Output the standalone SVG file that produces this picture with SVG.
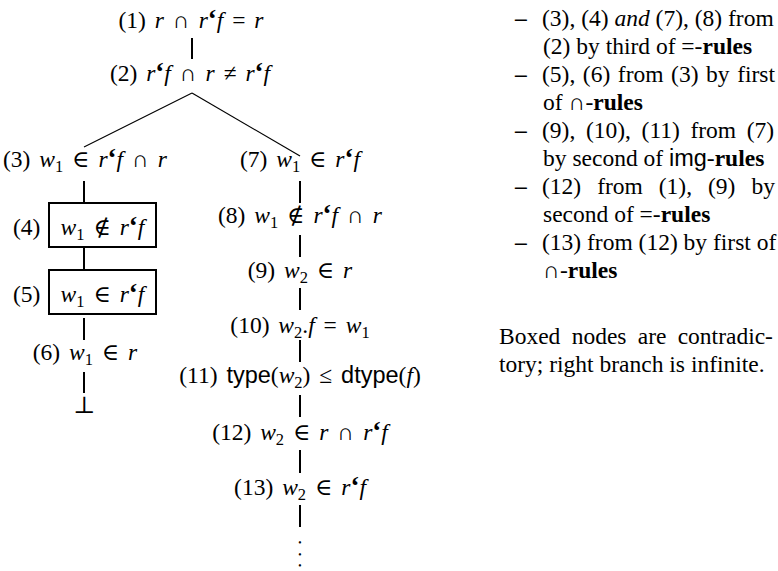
<svg xmlns="http://www.w3.org/2000/svg" width="778" height="571" viewBox="0 0 778 571">
<style>
.t{font-family:"Liberation Serif","DejaVu Serif",serif;font-size:23.5px;fill:#000}
.m{text-anchor:middle;word-spacing:3px}
.i{font-style:italic}
.q{font-weight:bold;font-size:27px}
.s{font-family:"Liberation Sans","DejaVu Sans",sans-serif}
.b{font-weight:bold}
.sub{font-size:16.5px}
.dot{font-family:"Liberation Serif","DejaVu Serif",serif;font-size:9.5px;text-anchor:middle;fill:#000}
.c{stroke:#000;stroke-width:2;fill:none}
.d{stroke:#000;stroke-width:1.2;fill:none}
.box{stroke:#000;stroke-width:2;fill:#fff}
</style>
<rect width="778" height="571" fill="#fff"/>
<g id="connectors">
<line class="c" x1="192" y1="38" x2="192" y2="59"/>
<line class="d" x1="192" y1="93" x2="84" y2="147"/>
<line class="d" x1="192" y1="93" x2="300" y2="156"/>
<line class="c" x1="84" y1="181" x2="84" y2="203"/>
<line class="c" x1="84" y1="248" x2="84" y2="270"/>
<line class="c" x1="84" y1="318" x2="84" y2="340"/>
<line class="c" x1="84" y1="372" x2="84" y2="393"/>
<line class="c" x1="300" y1="181" x2="300" y2="203"/>
<line class="c" x1="300" y1="235" x2="300" y2="257"/>
<line class="c" x1="300" y1="288" x2="300" y2="310"/>
<line class="c" x1="300" y1="340" x2="300" y2="362"/>
<line class="c" x1="300" y1="395" x2="300" y2="417"/>
<line class="c" x1="300" y1="450" x2="300" y2="473"/>
<line class="c" x1="300" y1="505" x2="300" y2="527"/>
</g>
<g id="n1"><text class="t m" x="191" y="28">(1) <tspan class="i">r</tspan> ∩ <tspan class="i">r</tspan><tspan class="q">‘</tspan><tspan class="i">f</tspan> = <tspan class="i">r</tspan></text></g>
<g id="n2"><text class="t m" x="190" y="81">(2) <tspan class="i">r</tspan><tspan class="q">‘</tspan><tspan class="i">f</tspan> ∩ <tspan class="i">r</tspan> ≠ <tspan class="i">r</tspan><tspan class="q">‘</tspan><tspan class="i">f</tspan></text></g>
<g id="n3"><text class="t m" x="85" y="167">(3) <tspan class="i">w</tspan><tspan class="sub" dy="5">1</tspan><tspan dy="-5"> ∈ </tspan><tspan class="i">r</tspan><tspan class="q">‘</tspan><tspan class="i">f</tspan> ∩ <tspan class="i">r</tspan></text></g>
<g id="n4"><rect class="box" x="49" y="203" width="107" height="44"/><text class="t" x="13" y="235">(4)</text><text class="t m" x="102.5" y="235"><tspan class="i">w</tspan><tspan class="sub" dy="5">1</tspan><tspan dy="-5"> ∉ </tspan><tspan class="i">r</tspan><tspan class="q">‘</tspan><tspan class="i">f</tspan></text></g>
<g id="n5"><rect class="box" x="49" y="270" width="107" height="44"/><text class="t" x="13" y="302">(5)</text><text class="t m" x="102.5" y="302"><tspan class="i">w</tspan><tspan class="sub" dy="5">1</tspan><tspan dy="-5"> ∈ </tspan><tspan class="i">r</tspan><tspan class="q">‘</tspan><tspan class="i">f</tspan></text></g>
<g id="n6"><text class="t m" x="85" y="360">(6) <tspan class="i">w</tspan><tspan class="sub" dy="5">1</tspan><tspan dy="-5"> ∈ </tspan><tspan class="i">r</tspan></text></g>
<g id="bot"><text class="t m" x="84" y="413">⊥</text></g>
<g id="n7"><text class="t m" x="300" y="167">(7) <tspan class="i">w</tspan><tspan class="sub" dy="5">1</tspan><tspan dy="-5"> ∈ </tspan><tspan class="i">r</tspan><tspan class="q">‘</tspan><tspan class="i">f</tspan></text></g>
<g id="n8"><text class="t m" x="300" y="223">(8) <tspan class="i">w</tspan><tspan class="sub" dy="5">1</tspan><tspan dy="-5"> ∉ </tspan><tspan class="i">r</tspan><tspan class="q">‘</tspan><tspan class="i">f</tspan> ∩ <tspan class="i">r</tspan></text></g>
<g id="n9"><text class="t m" x="300" y="278">(9) <tspan class="i">w</tspan><tspan class="sub" dy="5">2</tspan><tspan dy="-5"> ∈ </tspan><tspan class="i">r</tspan></text></g>
<g id="n10"><text class="t m" x="300" y="333">(10) <tspan class="i">w</tspan><tspan class="sub" dy="5">2</tspan><tspan dy="-5">.</tspan><tspan class="i">f</tspan> = <tspan class="i">w</tspan><tspan class="sub" dy="5">1</tspan></text></g>
<g id="n11"><text class="t m" x="300" y="383">(11) <tspan class="s">type</tspan>(<tspan class="i">w</tspan><tspan class="sub" dy="5">2</tspan><tspan dy="-5">) ≤ </tspan><tspan class="s">dtype</tspan>(<tspan class="i">f</tspan>)</text></g>
<g id="n12"><text class="t m" x="300" y="440">(12) <tspan class="i">w</tspan><tspan class="sub" dy="5">2</tspan><tspan dy="-5"> ∈ </tspan><tspan class="i">r</tspan> ∩ <tspan class="i">r</tspan><tspan class="q">‘</tspan><tspan class="i">f</tspan></text></g>
<g id="n13"><text class="t m" x="300" y="495">(13) <tspan class="i">w</tspan><tspan class="sub" dy="5">2</tspan><tspan dy="-5"> ∈ </tspan><tspan class="i">r</tspan><tspan class="q">‘</tspan><tspan class="i">f</tspan></text></g>
<g id="dots">
<text class="dot" x="300" y="546">•</text>
<text class="dot" x="300" y="557.5">•</text>
<text class="dot" x="300" y="568.5">•</text>
</g>
<g id="notes">
<text class="t b" x="515" y="26">–</text>
<text class="t" x="542" y="26">(3), (4) <tspan class="i">and</tspan> (7), (8) from</text>
<text class="t" x="543" y="54">(2) by third of =-<tspan class="b">rules</tspan></text>
<text class="t b" x="515" y="82">–</text>
<text class="t" x="542" y="82" word-spacing="1.7">(5), (6) from (3) by first</text>
<text class="t" x="543" y="110">of ∩-<tspan class="b">rules</tspan></text>
<text class="t b" x="515" y="138">–</text>
<text class="t" x="542" y="138" word-spacing="4.75">(9), (10), (11) from (7)</text>
<text class="t" x="543" y="166">by second of <tspan class="s">img</tspan>-<tspan class="b">rules</tspan></text>
<text class="t b" x="515" y="194">–</text>
<text class="t" x="542" y="194" word-spacing="10.1">(12) from (1), (9) by</text>
<text class="t" x="543" y="222">second of =-<tspan class="b">rules</tspan></text>
<text class="t b" x="515" y="250">–</text>
<text class="t" x="542" y="250">(13) from (12) by first of</text>
<text class="t" x="543" y="278">∩-<tspan class="b">rules</tspan></text>
<text class="t" x="499" y="344" word-spacing="5.4">Boxed nodes are contradic-</text>
<text class="t" x="499" y="372">tory; right branch is infinite.</text>
</g>
</svg>
